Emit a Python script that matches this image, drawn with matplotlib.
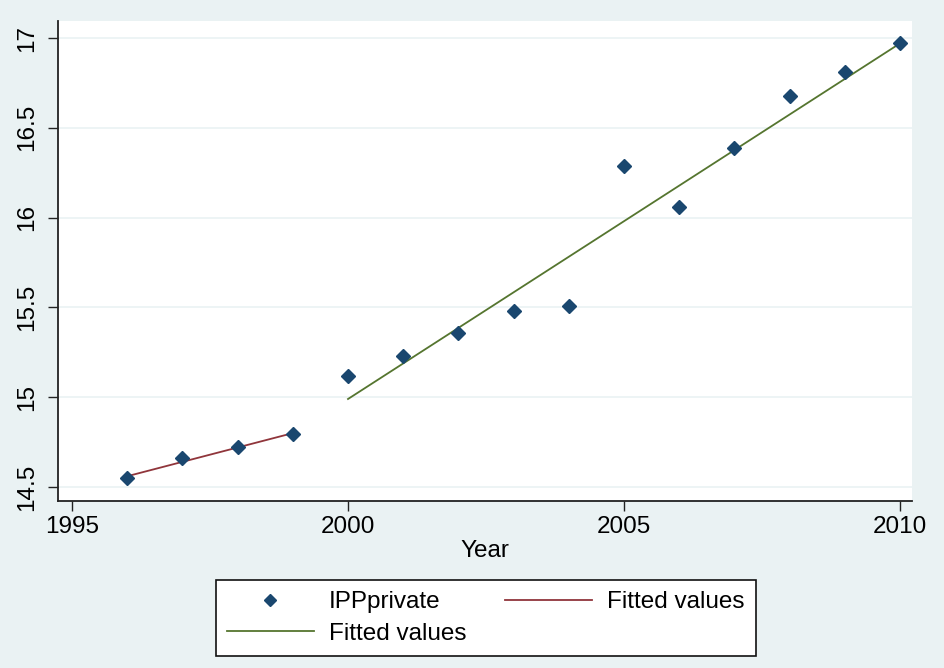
import numpy as np
import matplotlib
matplotlib.use('Agg')
import matplotlib.pyplot as plt

years = [1996, 1997, 1998, 1999, 2000, 2001, 2002, 2003,
         2004, 2005, 2006, 2007, 2008, 2009, 2010]
ipp_private = [14.55, 14.66, 14.72, 14.795, 15.12, 15.23, 15.36, 15.48,
               15.51, 16.29, 16.06, 16.39, 16.68, 16.81, 16.97]

# fitted values of the two regressions (endpoints of each segment)
fit1_years = [1996, 1999]
fit1_vals = [14.56, 14.80]
fit2_years = [2000, 2010]
fit2_vals = [14.99, 16.97]

xticks = [1995, 2000, 2005, 2010]
yticks = [14.5, 15, 15.5, 16, 16.5, 17]
ytick_labels = ['14.5', '15', '15.5', '16', '16.5', '17']

bg = '#eaf2f3'
navy = '#1a476f'
maroon = '#90353b'
green = '#55752f'

plt.rcParams['font.family'] = ['Liberation Sans', 'DejaVu Sans']

fig = plt.figure(figsize=(9.45, 6.68), dpi=100, facecolor=bg)
ax = fig.add_axes([0.0614, 0.250, 0.9036, 0.7186])
ax.set_facecolor('white')

ax.plot(years, ipp_private, linestyle='none', marker='D', ms=7,
        color=navy, label='IPPprivate', zorder=3)
l2, = ax.plot(fit2_years, fit2_vals, color=green, lw=1.3, label='Fitted values')
l1, = ax.plot(fit1_years, fit1_vals, color=maroon, lw=1.3, label='Fitted values')

ax.set_xlim(1994.746, 2010.217)
ax.set_ylim(14.422, 17.095)
ax.set_xticks(xticks)
ax.set_yticks(yticks)
ax.set_yticklabels(ytick_labels, rotation=90, va='center')
ax.tick_params(axis='both', labelsize=17.5, length=7, width=1, color='#222222',
               direction='out')
ax.tick_params(axis='x', pad=4)
ax.tick_params(axis='y', pad=7)
ax.grid(axis='y', color=bg, lw=1.2)
ax.set_axisbelow(True)
for s in ['top', 'right']:
    ax.spines[s].set_visible(False)
for s in ['left', 'bottom']:
    ax.spines[s].set_color('#222222')
    ax.spines[s].set_linewidth(1.3)

ax.set_xlabel('Year', fontsize=17.5, labelpad=1)

h, lab = ax.get_legend_handles_labels()
leg = fig.legend([h[0], h[1], h[2]], [lab[0], lab[1], lab[2]], ncol=2,
                 loc='center', bbox_to_anchor=(0.5138, 0.0749), fontsize=17.5,
                 frameon=True, fancybox=False, edgecolor='#111111',
                 framealpha=1, facecolor='white',
                 handlelength=3.6, columnspacing=1.6, handletextpad=0.6,
                 borderpad=0.45, labelspacing=0.4, markerscale=0.9)
leg.get_frame().set_linewidth(1.2)

fig.savefig('out.png', dpi=100, facecolor=bg)
